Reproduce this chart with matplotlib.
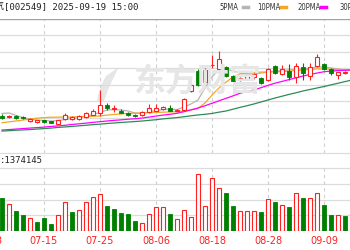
import matplotlib
matplotlib.use('Agg')
import matplotlib.pyplot as plt
from matplotlib.patches import Rectangle, PathPatch
from matplotlib.path import Path
import matplotlib.transforms as mtrans

plt.rcParams['font.family'] = ['DejaVu Sans', 'Noto Sans CJK SC']

dates = ['07-07','07-08','07-09','07-10','07-11','07-14','07-15','07-16','07-17','07-18',
         '07-21','07-22','07-23','07-24','07-25','07-28','07-29','07-30','07-31','08-01',
         '08-04','08-05','08-06','08-07','08-08','08-11','08-12','08-13','08-14','08-15',
         '08-18','08-19','08-20','08-21','08-22','08-25','08-26','08-27','08-28','08-29',
         '09-01','09-02','09-03','09-04','09-05','09-08','09-09','09-10','09-11','09-12',
         '09-15']
earlier_dates = ['07-03', '07-04']
tick_labels = ['07-03','07-15','07-25','08-06','08-18','08-28','09-09']

opens  = [8.11,8.02,8.10,8.03,7.81,7.75,7.85,7.77,7.61,7.89,7.89,7.89,8.02,8.16,8.30,8.77,8.55,8.42,8.26,8.13,
          8.16,8.31,8.40,8.52,8.61,8.37,8.46,9.62,10.85,10.18,11.20,10.94,11.06,10.53,10.29,10.37,10.49,10.39,10.29,11.14,
          10.65,10.85,10.49,11.06,10.53,11.14,11.26,10.94,10.59,10.70,10.71]
highs  = [8.19,8.16,8.16,8.10,7.97,7.88,7.88,7.82,7.88,8.30,8.10,8.13,8.34,8.52,9.68,8.89,8.77,8.55,8.31,8.22,
          8.40,8.80,8.83,8.73,8.77,8.52,9.22,10.04,10.96,11.02,11.81,12.07,11.14,10.59,10.50,10.59,10.73,10.44,10.99,11.20,
          11.20,11.26,11.34,11.30,11.30,11.87,11.35,10.99,10.80,10.83,10.86]
lows   = [7.91,7.97,7.91,7.91,7.76,7.70,7.67,7.64,7.58,7.88,7.88,7.88,7.97,8.13,8.10,8.46,8.34,8.25,8.10,8.03,
          8.10,8.28,8.37,8.49,8.40,8.34,8.43,9.56,9.92,10.13,11.00,10.90,10.50,10.20,10.23,10.32,10.35,10.07,10.23,10.68,
          10.59,10.29,10.12,10.29,10.29,11.08,10.90,10.59,10.33,10.65,10.65]
closes = [7.96,8.10,7.97,7.97,7.91,7.85,7.73,7.69,7.85,8.16,8.05,8.10,8.26,8.42,8.77,8.56,8.55,8.30,8.14,8.07,
          8.34,8.61,8.61,8.67,8.43,8.46,9.13,9.98,9.98,10.90,11.21,11.55,10.55,10.24,10.43,10.53,10.63,10.12,10.94,10.73,
          10.94,10.49,11.14,10.69,11.06,11.67,10.94,10.73,10.76,10.79,10.80]

ma5  = [8.25,8.28,8.13,8.00,7.91,7.85,7.82,7.79,7.82,7.88,7.94,8.00,8.07,8.19,8.31,8.46,8.49,8.46,8.40,8.28,
        8.25,8.34,8.43,8.49,8.52,8.49,8.64,8.83,9.07,9.80,10.47,10.96,10.96,10.83,10.71,10.65,10.65,10.71,10.77,10.83,
        10.86,10.90,10.93,10.96,11.02,11.08,11.08,11.02,10.96,10.90,10.86]
ma10 = [7.69,7.74,7.79,7.85,7.91,7.96,8.00,8.02,8.03,8.03,8.03,8.05,8.07,8.08,8.10,8.15,8.19,8.22,8.25,8.27,
        8.28,8.30,8.31,8.33,8.34,8.36,8.40,8.46,8.56,8.89,9.37,9.80,10.16,10.47,10.65,10.71,10.74,10.77,10.77,10.79,
        10.80,10.83,10.86,10.90,10.93,10.96,10.96,10.94,10.93,10.91,10.90]
ma20 = [7.24,7.27,7.30,7.33,7.36,7.39,7.42,7.46,7.49,7.53,7.58,7.62,7.66,7.71,7.75,7.79,7.83,7.86,7.90,7.93,
        7.97,8.03,8.09,8.15,8.20,8.26,8.36,8.47,8.58,8.72,8.87,9.02,9.17,9.32,9.48,9.58,9.68,9.82,9.96,10.09,
        10.20,10.31,10.42,10.53,10.62,10.71,10.79,10.83,10.86,10.88,10.90]
ma30 = [7.18,7.20,7.23,7.25,7.27,7.30,7.33,7.36,7.40,7.43,7.46,7.50,7.53,7.57,7.60,7.64,7.67,7.70,7.73,7.76,
        7.79,7.83,7.87,7.92,7.96,8.00,8.05,8.11,8.16,8.20,8.25,8.33,8.40,8.51,8.62,8.72,8.83,8.95,9.07,9.19,
        9.30,9.41,9.51,9.62,9.71,9.80,9.89,9.99,10.09,10.19,10.29]

volumes = [2.07,1.71,1.26,1.03,0.81,0.59,0.81,0.44,1.02,1.83,1.22,1.31,1.84,2.13,2.34,1.57,1.38,1.17,1.10,0.65,
           0.53,1.10,1.54,1.50,1.10,0.74,1.31,0.87,3.62,1.59,3.39,2.75,2.43,1.57,1.27,1.27,1.27,1.21,2.01,1.84,
           1.67,1.50,2.43,2.07,2.07,2.40,1.67,1.04,1.04,0.93,1.12]
vol_up = [0,1,0,0,1,0,0,0,1,1,0,1,1,1,1,0,0,0,0,0,
          1,1,1,1,0,1,1,1,1,1,1,1,0,0,1,1,1,0,1,0,
          1,0,1,0,1,1,0,0,1,0,1]
latest_volume = '1374145'
stock_name = '凯美特气'
stock_code = '[002549]'
timestamp = '2025-09-19 15:00'
ma_names = ['5PMA', '10PMA', '20PMA', '30PMA']

RED = '#ff2020'
GREEN = '#008000'
MA_COLORS = ['#b4b4b4', '#f5a623', '#ff00ff', '#2e8b57']
GRID = '#dcdcdc'
WATERMARK = '#e6e6e6'

W, H = 350, 250
fig = plt.figure(figsize=(W/100, H/100), dpi=100)

def fx(px):
    return px / W

def fy(py):
    return 1 - py / H

n = len(dates)
xs = list(range(n))
x0, x1 = -2/7, (W - 2)/7
tick_pos = [(earlier_dates + dates).index(t) - len(earlier_dates) for t in tick_labels]

def style(ax, yl, nint, hgrid=True):
    ax.set_xlim(x0, x1)
    ax.set_ylim(*yl)
    ax.set_xticks([]); ax.set_yticks([])
    if hgrid:
        step = (yl[1] - yl[0]) / nint
        for i in range(nint + 1):
            ax.axhline(yl[0] + i*step, color=GRID, lw=0.9, zorder=0)
    for p in tick_pos:
        ax.axvline(p, color='#cfcfcf', lw=0.8, ls=(0, (3, 3)), zorder=0)
    for s in ax.spines.values():
        s.set_visible(False)
    ax.patch.set_alpha(0)

# price panel y 19..134
ax_p = fig.add_axes([0, fy(134), 1, 115/H])
style(ax_p, (7.0, 14.0), 7)
ax_p.axhline(14.0, color='#a0a0a0', lw=0.9)

# watermark (logo swoosh + name)
logo = [(97, 101), (99, 88), (106, 76), (119, 67), (113, 78), (108, 90), (104, 101), (97, 101)]
logo_path = Path([(fx(a), fy(b)) for a, b in logo],
                 [Path.MOVETO, Path.CURVE3, Path.CURVE3, Path.LINETO, Path.CURVE3, Path.CURVE3,
                  Path.LINETO, Path.CLOSEPOLY])
fig.add_artist(PathPatch(logo_path, transform=fig.transFigure, facecolor=WATERMARK,
                         edgecolor='none', zorder=0))
fig.text(fx(197), fy(83), '东方财富', fontsize=23,
         family=['Noto Sans CJK SC'], color=WATERMARK, ha='center', va='center',
         fontweight='bold', zorder=0)

bw = 0.7
for i in xs:
    o, h, l, c = opens[i], highs[i], lows[i], closes[i]
    if c >= o:
        ax_p.vlines(i, c, h, color=RED, lw=0.8, zorder=3)
        ax_p.vlines(i, l, o, color=RED, lw=0.8, zorder=3)
        ax_p.add_patch(Rectangle((i - bw/2, o), bw, max(c - o, 0.005), facecolor='white',
                                 edgecolor=RED, lw=0.8, zorder=3))
    else:
        ax_p.vlines(i, l, h, color=GREEN, lw=0.8, zorder=3)
        ax_p.add_patch(Rectangle((i - bw/2, c), bw, o - c, facecolor=GREEN,
                                 edgecolor=GREEN, lw=0.6, zorder=3))

for vals, col in zip([ma5, ma10, ma20, ma30], MA_COLORS):
    ax_p.plot(xs, vals, color=col, lw=0.9, zorder=2)

# middle band 134..153
ax_m = fig.add_axes([0, fy(153), 1, 19/H])
style(ax_m, (0, 1), 1, hgrid=False)
ax_m.axhline(0, color=GRID, lw=0.9)

# volume header box 153..168
ax_b = fig.add_axes([0, fy(168), 1, 15/H])
ax_b.set_xlim(0, W); ax_b.set_ylim(0, 1)
ax_b.axis('off')
ax_b.axhline(1, color=GRID, lw=0.9)
ax_b.axhline(0, color=GRID, lw=0.9)
ax_b.text(0, 0.5, ':' + latest_volume, fontsize=6.5, color='#222222',
          ha='left', va='center', family=['DejaVu Sans Mono'])

# volume panel 168..231
ax_v = fig.add_axes([0, fy(231), 1, 63/H])
style(ax_v, (0, 4.0), 4)
ax_v.axhline(0, color='#b0b0b0', lw=0.9)
for i in xs:
    if vol_up[i]:
        ax_v.bar(i, volumes[i], width=bw, facecolor='white', edgecolor=RED, lw=0.8, zorder=3)
    else:
        ax_v.bar(i, volumes[i], width=bw, facecolor=GREEN, edgecolor=GREEN, lw=0.6, zorder=3)
tr = mtrans.blended_transform_factory(ax_v.transData, fig.transFigure)
for p, lbl in zip(tick_pos, tick_labels):
    ax_v.text(p, fy(241), lbl, transform=tr, fontsize=7, color=RED,
              ha='center', va='center', clip_on=False)

# header
fig.text(fx(4), fy(7), stock_code + ' ' + timestamp, fontsize=6.5, color='#222222',
         ha='left', va='center', family=['DejaVu Sans Mono'])
fig.text(fx(4), fy(7), stock_name[-1], fontsize=6.5, color='#222222', ha='right', va='center',
         family=['Noto Sans CJK SC'])
lx = [219, 257, 297, 340]
for name, col, x in zip(ma_names, MA_COLORS, lx):
    t = fig.text(fx(x), fy(7), name, fontsize=5.5, color='#333333', ha='left', va='center',
                 fontstretch='condensed')
    fig.add_artist(plt.Line2D([fx(x + 24), fx(x + 29)], [fy(7), fy(7)], color=col, lw=2.5))

fig.savefig('out.png', dpi=100)
